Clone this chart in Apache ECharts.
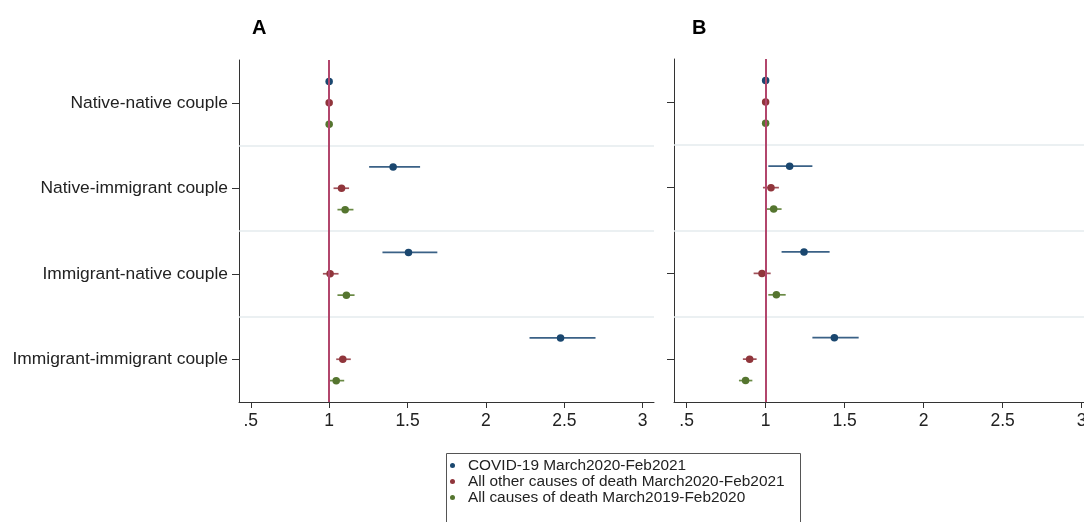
<!DOCTYPE html>
<html>
<head>
<meta charset="utf-8">
<script src="https://cdn.jsdelivr.net/npm/echarts@6/dist/echarts.min.js"></script>
<style>html,body{margin:0;padding:0;background:#fff;}#c{width:1084px;height:522px;}</style>
</head>
<body>
<div id="c"></div>
<script>
const categories = ['Native-native couple','Native-immigrant couple','Immigrant-native couple','Immigrant-immigrant couple'];
const seriesNames = ['COVID-19 March2020-Feb2021','All other causes of death March2020-Feb2021','All causes of death March2019-Feb2020'];
const xTicks = [0.5, 1, 1.5, 2, 2.5, 3];
const xTickLabels = ['.5','1','1.5','2','2.5','3'];

// Panel A
const A_covid    = [1.000, 1.408, 1.506, 2.476];
const A_covid_lo = [1.000, 1.255, 1.340, 2.278];
const A_covid_hi = [1.000, 1.580, 1.690, 2.699];
const A_other    = [1.000, 1.079, 1.006, 1.087];
const A_other_lo = [1.000, 1.028, 0.960, 1.045];
const A_other_hi = [1.000, 1.127, 1.060, 1.138];
const A_all      = [1.000, 1.102, 1.110, 1.045];
const A_all_lo   = [1.000, 1.053, 1.053, 1.004];
const A_all_hi   = [1.000, 1.155, 1.162, 1.096];

// Panel B
const B_covid    = [1.000, 1.152, 1.243, 1.435];
const B_covid_lo = [1.000, 1.017, 1.101, 1.296];
const B_covid_hi = [1.000, 1.296, 1.405, 1.589];
const B_other    = [1.000, 1.034, 0.977, 0.899];
const B_other_lo = [1.000, 0.983, 0.924, 0.856];
const B_other_hi = [1.000, 1.084, 1.032, 0.943];
const B_all      = [1.000, 1.051, 1.068, 0.873];
const B_all_lo   = [1.000, 1.004, 1.017, 0.831];
const B_all_hi   = [1.000, 1.101, 1.127, 0.916];

const colors = ['#1a476f', '#90353b', '#55752f'];
const barColors = ['#3a6186', '#a0525a', '#6a8a45'];
const refColor = '#b2466c';
const sepColor = '#e4ebee';
const offsets = [-0.25, 0, 0.25];
const FONT = 'Liberation Sans, Arial, sans-serif';

const panels = [
  {est:[A_covid, A_other, A_all], lo:[A_covid_lo, A_other_lo, A_all_lo], hi:[A_covid_hi, A_other_hi, A_all_hi]},
  {est:[B_covid, B_other, B_all], lo:[B_covid_lo, B_other_lo, B_all_lo], hi:[B_covid_hi, B_other_hi, B_all_hi]}
];

const grids = [
  {left: 239, top: 60, width: 415, height: 342, outerBoundsMode: 'none'},
  {left: 674, top: 59, width: 418, height: 343, outerBoundsMode: 'none'}
];
const xRanges = [[0.425, 3.072],[0.42, 3.066]];

const xAxes = [], yAxes = [], series = [];
grids.forEach((g, p) => {
  xAxes.push({
    type: 'value', gridIndex: p, min: xRanges[p][0], max: xRanges[p][1],
    splitLine: {show: false},
    axisLine: {show: true, onZero: false, lineStyle: {color: '#333', width: 1}},
    axisTick: {show: true, length: 6, lineStyle: {color: '#333'}, customValues: xTicks},
    axisLabel: {show: true, color: '#222', fontSize: 17.5, fontFamily: FONT, margin: 10, customValues: xTicks,
      formatter: v => { const i = xTicks.findIndex(t => Math.abs(t - v) < 1e-6); return i >= 0 ? xTickLabels[i] : ''; }}
  });
  yAxes.push({
    type: 'category', gridIndex: p, data: categories, inverse: true, boundaryGap: true,
    axisLine: {show: true, onZero: false, lineStyle: {color: '#333', width: 1}},
    axisTick: {show: true, alignWithLabel: true, length: 7, lineStyle: {color: '#333'}},
    axisLabel: {show: p === 0, color: '#222', fontSize: 17.4, fontFamily: FONT, margin: 11},
    splitLine: {show: false}
  });
  yAxes.push({
    type: 'value', gridIndex: p, min: -0.5, max: 3.5, inverse: true, show: false, splitLine: {show: false}
  });
  const yIdx = p * 2 + 1;
  // reference line + separators
  series.push({
    type: 'scatter', xAxisIndex: p, yAxisIndex: yIdx, data: [], silent: true, z: 1,
    markLine: {
      silent: true, symbol: 'none', animation: false, label: {show: false},
      data: [
        {yAxis: 0.5, lineStyle: {color: sepColor, width: 1.5, type: 'solid'}},
        {yAxis: 1.5, lineStyle: {color: sepColor, width: 1.5, type: 'solid'}},
        {yAxis: 2.5, lineStyle: {color: sepColor, width: 1.5, type: 'solid'}},
        {xAxis: 1, lineStyle: {color: refColor, width: 2, type: 'solid'}}
      ]
    }
  });
  for (let s = 0; s < 3; s++) {
    const pan = panels[p];
    const ciData = categories.map((c, i) => [pan.lo[s][i], pan.hi[s][i], i + offsets[s]]);
    series.push({
      type: 'custom', xAxisIndex: p, yAxisIndex: yIdx, z: 2, silent: true,
      data: ciData,
      encode: {x: [0, 1], y: 2},
      renderItem: (params, api) => {
        const a = api.coord([api.value(0), api.value(2)]);
        const b = api.coord([api.value(1), api.value(2)]);
        return {type: 'line', shape: {x1: a[0], y1: a[1], x2: b[0], y2: b[1]},
          style: {stroke: barColors[s], lineWidth: 1.7}};
      }
    });
    series.push({
      type: 'scatter', name: seriesNames[s], xAxisIndex: p, yAxisIndex: yIdx, z: 3,
      symbol: 'circle', symbolSize: 7.5,
      itemStyle: {color: colors[s], opacity: 1},
      data: categories.map((c, i) => [pan.est[s][i], i + offsets[s]])
    });
  }
});

const chart = echarts.init(document.getElementById('c'), null, {renderer: 'canvas'});
chart.setOption({
  animation: false,
  backgroundColor: '#ffffff',
  title: [
    {text: 'A', left: 247, top: 13, textStyle: {fontSize: 20, fontWeight: 'bold', color: '#000', fontFamily: FONT}},
    {text: 'B', left: 687, top: 13, textStyle: {fontSize: 20, fontWeight: 'bold', color: '#000', fontFamily: FONT}}
  ],
  graphic: [
    {type: 'rect', shape: {x: 446.5, y: 453.5, width: 354, height: 90},
      style: {fill: 'none', stroke: '#555', lineWidth: 1}, z: 0, silent: true}
  ],
  grid: grids,
  xAxis: xAxes,
  yAxis: yAxes,
  legend: {
    data: seriesNames,
    orient: 'vertical', left: 446, top: 458,
    padding: [0, 0, 0, 4],
    height: 60,
    itemGap: 1, itemWidth: 5, itemHeight: 5,
    icon: 'circle',
    selectedMode: false,
    textStyle: {fontSize: 15.4, color: '#222', fontFamily: FONT, padding: [0, 0, 0, 8], lineHeight: 15}
  },
  series: series
});
</script>
</body>
</html>
